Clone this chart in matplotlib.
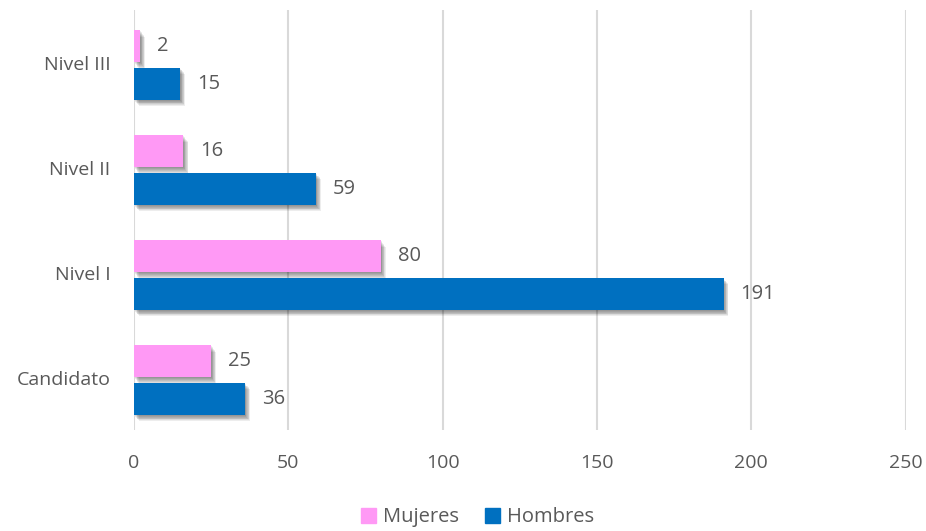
import numpy as np
import matplotlib
matplotlib.use("Agg")
import matplotlib.pyplot as plt
import matplotlib.patheffects as pe
from matplotlib.patches import Patch

categorias = ["Candidato", "Nivel I", "Nivel II", "Nivel III"]
mujeres = [25, 80, 16, 2]
hombres = [36, 191, 59, 15]
xticks = [0, 50, 100, 150, 200, 250]

ROSA = "#FF99F5"
AZUL = "#0070C0"
GRIS = "#595959"

plt.rcParams["font.family"] = ["Open Sans", "DejaVu Sans"]

fig = plt.figure(figsize=(9.26, 5.31), dpi=100)
ax = fig.add_axes([0.1447, 0.19, 0.978 - 0.1447, 0.981 - 0.19])

y = np.arange(len(categorias))
h = 0.305
off = 0.18
# sombra difusa: varias capas suaves
sombra = [pe.SimplePatchShadow(offset=(d, -d * 1.4), alpha=0.07, shadow_rgbFace="black")
          for d in (0.5, 1.0, 1.5, 2.0, 2.5, 3.0, 3.5)] + [pe.Normal()]

bm = ax.barh(y + off - 0.02, mujeres, height=h, color=ROSA, zorder=3)
bh = ax.barh(y - off - 0.02, hombres, height=h, color=AZUL, zorder=3)
for b in list(bm) + list(bh):
    b.set_path_effects(sombra)

for yy, v in zip(y + off - 0.02, mujeres):
    ax.annotate(str(v), (v, yy), xytext=(12, 0), textcoords="offset points",
                va="center", ha="left", fontsize=14.5, color=GRIS)
for yy, v in zip(y - off - 0.02, hombres):
    ax.annotate(str(v), (v, yy), xytext=(12, 0), textcoords="offset points",
                va="center", ha="left", fontsize=14.5, color=GRIS)

ax.set_xlim(0, 250)
ax.set_ylim(-0.5, 3.5)
ax.set_xticks(xticks)
ax.set_yticks(y)
ax.set_yticklabels(categorias)
ax.tick_params(axis="both", length=0, labelsize=14, labelcolor=GRIS)
ax.tick_params(axis="x", pad=17)
ax.tick_params(axis="y", pad=17)
ax.grid(axis="x", color="#D9D9D9", linewidth=1.5, zorder=0)
for s in ax.spines.values():
    s.set_visible(False)

handles = [Patch(color=ROSA, label="Mujeres"), Patch(color=AZUL, label="Hombres")]
fig.legend(handles=handles, loc="center", bbox_to_anchor=(0.516, 0.026), ncol=2,
           frameon=False, fontsize=14.5, labelcolor=GRIS, handlelength=0.75,
           handleheight=0.75, handletextpad=0.35, columnspacing=1.3)

fig.savefig("out.png", dpi=100)
